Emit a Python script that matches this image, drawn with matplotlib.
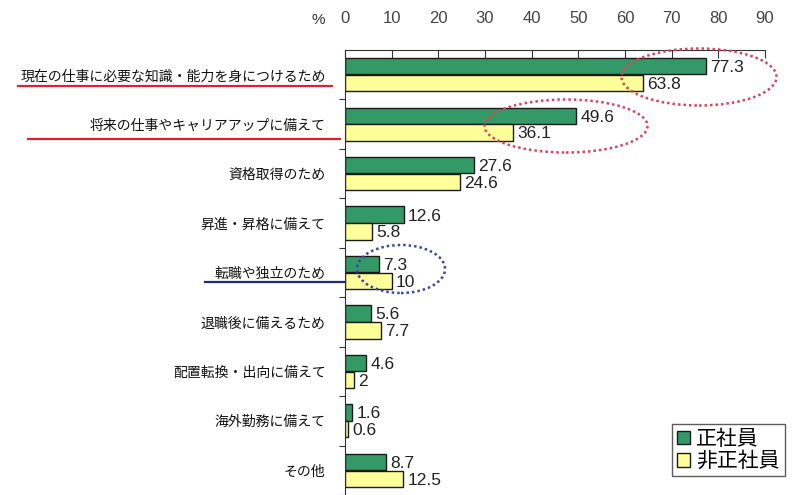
import matplotlib
matplotlib.use("Agg")
import matplotlib.pyplot as plt
from matplotlib.patches import Ellipse
from matplotlib.lines import Line2D
import numpy as np

plt.rcParams['font.family'] = ['Liberation Sans', 'Noto Sans CJK JP', 'DejaVu Sans']

categories = [
    "現在の仕事に必要な知識・能力を身につけるため",
    "将来の仕事やキャリアアップに備えて",
    "資格取得のため",
    "昇進・昇格に備えて",
    "転職や独立のため",
    "退職後に備えるため",
    "配置転換・出向に備えて",
    "海外勤務に備えて",
    "その他",
]
seishain = [77.3, 49.6, 27.6, 12.6, 7.3, 5.6, 4.6, 1.6, 8.7]
hiseishain = [63.8, 36.1, 24.6, 5.8, 10, 7.7, 2, 0.6, 12.5]
series_names = ["正社員", "非正社員"]
xticks = [0, 10, 20, 30, 40, 50, 60, 70, 80, 90]

W, H = 800, 495
fig = plt.figure(figsize=(8, 4.95), dpi=100)

def fx(px):
    return px / W

def fy(py):
    return 1 - py / H

ax = fig.add_axes([fx(345), 0.0, fx(765) - fx(345), fy(50)])

y = np.arange(len(categories))
bh = 0.33
green = "#339966"
yellow = "#FFFF99"
b1 = ax.barh(y - 0.17, seishain, height=bh, color=green, edgecolor="#1a1a1a", linewidth=1.0, label=series_names[0])
b2 = ax.barh(y + 0.17, hiseishain, height=bh, color=yellow, edgecolor="#1a1a1a", linewidth=1.0, label=series_names[1])

for bars, vals in ((b1, seishain), (b2, hiseishain)):
    for rect, v in zip(bars, vals):
        ax.annotate(f"{v:g}", xy=(rect.get_width(), rect.get_y() + rect.get_height() / 2),
                    xytext=(3, -1), textcoords="offset points", va="center", ha="left",
                    fontsize=12.5, color="#222222")

ax.set_xlim(0, 90)
ax.set_ylim(len(categories) - 0.5, -0.5)
ax.xaxis.tick_top()
ax.set_xticks(xticks)
ax.set_xticklabels([str(t) for t in xticks], fontsize=12, color="#444444")
ax.tick_params(axis="x", direction="in", length=6, pad=17, width=0.8, color="#333333")
ax.set_yticks(y)
ax.set_yticklabels(categories, fontsize=10, color="#111111")
ax.tick_params(axis="y", which="major", length=0, pad=14)
ax.set_yticks(np.arange(len(categories)) + 0.5, minor=True)
ax.tick_params(axis="y", which="minor", direction="out", length=4, width=0.8, color="#333333")
for s in ("right", "bottom"):
    ax.spines[s].set_visible(False)
ax.spines["left"].set_color("#333333")
ax.spines["top"].set_color("#333333")
ax.spines["left"].set_linewidth(0.8)
ax.spines["top"].set_linewidth(0.8)

fig.text(fx(318), fy(20), "%", fontsize=11, ha="center", va="center", color="#333333")

# underlines
for (x0, x1, yy, c) in ((18, 332, 86, "#e02030"), (28, 340, 139, "#e02030"), (205, 345, 282, "#1f2a78")):
    fig.add_artist(Line2D([fx(x0), fx(x1)], [fy(yy), fy(yy)], color=c, linewidth=1.6,
                          transform=fig.transFigure))

# dotted ellipses
for (cx, cy, w, h, c) in ((699, 77, 155, 57, "#e0405a"), (566, 126, 163, 53, "#e0405a"),
                          (401, 269, 88, 48, "#3a44a8")):
    fig.add_artist(Ellipse((fx(cx), fy(cy)), w / W, h / H, fill=False, edgecolor=c,
                           linestyle=(0, (1, 1.2)), linewidth=1.8, transform=fig.transFigure))

leg = fig.legend(handles=[b1, b2], labels=series_names, loc="upper left",
                 bbox_to_anchor=(fx(672), fy(424)), fontsize=15, frameon=True, fancybox=False,
                 edgecolor="#333333", handlelength=0.6, handleheight=0.6, handletextpad=0.3,
                 borderpad=0.25, labelspacing=0.15, borderaxespad=0)
leg.get_frame().set_linewidth(1.0)

fig.savefig("out.png", dpi=100, facecolor="white")
